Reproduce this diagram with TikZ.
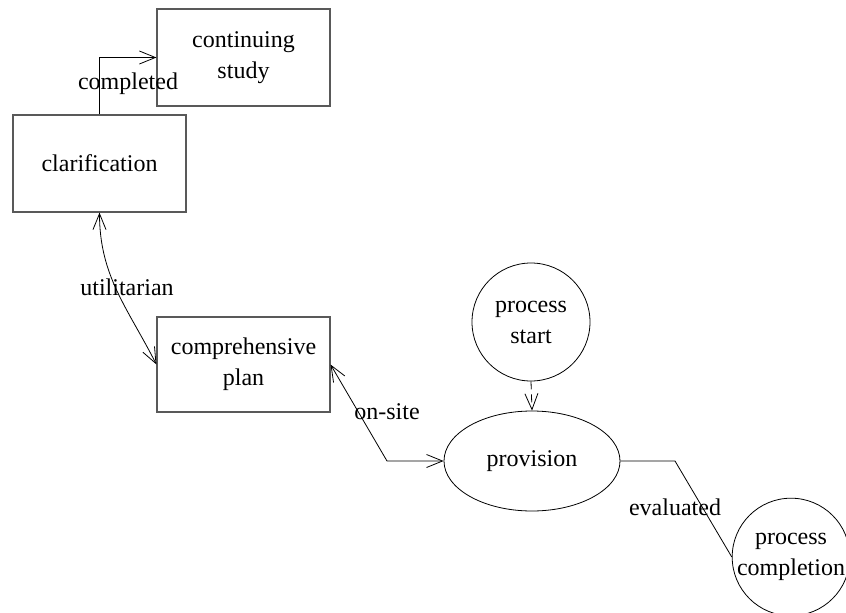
\documentclass[tikz,border=0pt]{standalone}
\usepackage{fontspec}
\setmainfont{Liberation Serif}
\usetikzlibrary{arrows.meta,shapes.geometric}
\begin{document}
\begin{tikzpicture}[x=1pt,y=1pt,
  every node/.style={font=\fontsize{24}{31}\selectfont, align=center, inner sep=0pt},
  boxnode/.style={draw=black!65, line width=1.1pt, minimum width=173pt, minimum height=97pt},
  circnode/.style={draw, circle, line width=0.8pt, minimum size=118pt},
  ellnode/.style={draw, ellipse, line width=0.8pt, minimum width=176pt, minimum height=100pt},
  edge/.style={line width=0.8pt},
  tip/.style={-{Straight Barb[length=16pt,width=13pt]}},
  tips/.style={{Straight Barb[length=16pt,width=13pt]}-{Straight Barb[length=16pt,width=13pt]}},
  lbl/.style={font=\fontsize{24}{31}\selectfont}]
\useasboundingbox (0,0) rectangle (846,-613);
\node[boxnode] (cs) at (243.5,-57.5) {continuing\\study};
\node[boxnode] (cl) at (99.5,-163.5) {clarification};
\node[boxnode, minimum height=95pt] (cp) at (243.5,-364.5) {comprehensive\\plan};
\node[circnode] (ps) at (531,-322) {process\\start};
\node[ellnode] (pv) at (532,-461) {provision};
\node[circnode, minimum size=116pt] (pc) at (791,-557) {process\\completion};
\coordinate (k1) at (387,-461);
\coordinate (k2) at (675,-461);
\draw[edge,tip] (cl.north) |- (cs.west);
\node[lbl] (l1) at (128,-84) {completed};
\draw[edge,tips] (cl.south) to[out=-90,in=117] (cp.west);
\node[lbl] (l2) at (127,-287) {utilitarian};
\draw[edge,tips] (cp.east) -- (k1) -- (pv.west);
\node[lbl] (l3) at (387,-412) {on-site};
\draw[edge,tip,dashed,dash pattern=on 8pt off 5pt] (ps.south) -- (pv.north);
\draw[edge] (pv.east) -- (k2) -- (pc.west);
\node[lbl] (l4) at (675,-507) {evaluated};
\end{tikzpicture}
\end{document}
